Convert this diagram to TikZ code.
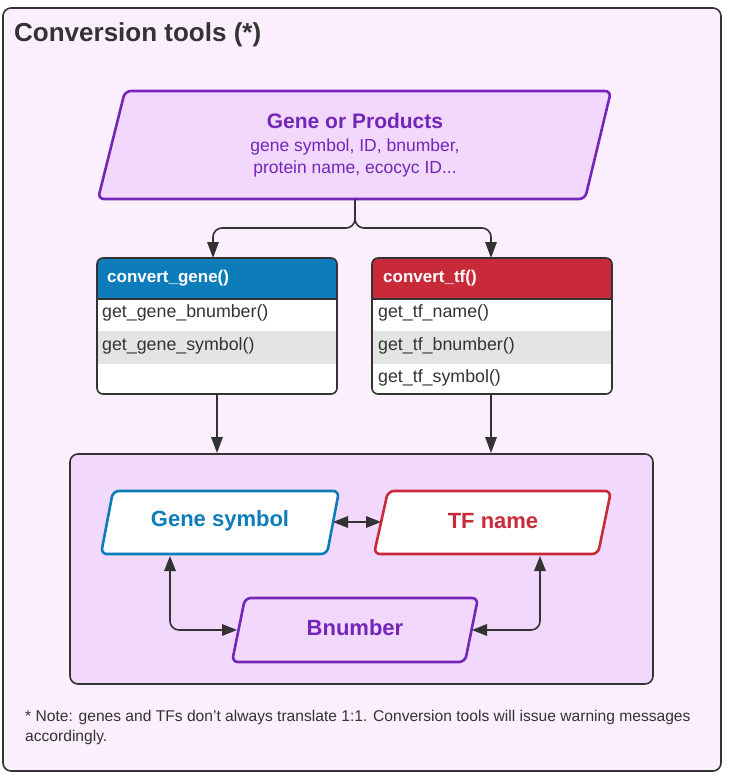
\documentclass[tikz,border=0pt]{standalone}
\usepackage{fontspec}
\setmainfont{Liberation Sans}
\usetikzlibrary{arrows.meta}
\definecolor{outerbg}{HTML}{FBEEFD}
\definecolor{innerbg}{HTML}{F2D8FC}
\definecolor{dark}{HTML}{333333}
\definecolor{purp}{HTML}{7326B9}
\definecolor{blu}{HTML}{0C7CBA}
\definecolor{redd}{HTML}{C92A39}
\definecolor{rowgray}{HTML}{E4E4E4}
\begin{document}
\begin{tikzpicture}[x=1pt,y=-1pt,
  frame/.style={draw=dark, line width=1.6pt, rounded corners=8pt},
  para/.style={line width=2.6pt, rounded corners=6pt},
  conn/.style={draw=dark, line width=1.6pt, -{Triangle[length=16pt,width=11.5pt]}},
  dconn/.style={draw=dark, line width=1.6pt, {Triangle[length=15pt,width=11.5pt]}-{Triangle[length=15pt,width=11.5pt]}},
  hdrtxt/.style={anchor=west, text=white, font=\bfseries\fontsize{17}{20}\selectfont, inner sep=0pt},
  rowtxt/.style={anchor=west, text=dark, font=\fontsize{17.8}{20}\selectfont, inner sep=0pt},
  bigtxt/.style={font=\bfseries\fontsize{22}{26}\selectfont, inner sep=0pt},
  gptxt/.style={text=purp, anchor=base, inner sep=0pt, font=\fontsize{17.5}{21}\selectfont},
  boxarea/.style={minimum width=240pt, minimum height=136pt, anchor=north west, inner sep=0pt, draw=none}
]
\useasboundingbox (0,0) rectangle (737,784);
% outer frame
\path[frame, fill=outerbg] (3,8) rectangle (721,771);
\node[anchor=west, text=dark, font=\bfseries\fontsize{26}{30}\selectfont, inner sep=0pt] (title) at (14,35) {Conversion tools (*)};

% Gene or Products
\path[para, draw=purp, fill=innerbg] (125,91) -- (611,91) -- (585,199) -- (98,199) -- cycle;
\node[gptxt, font=\bfseries\fontsize{21}{25}\selectfont] (gp) at (355,128) {Gene or Products};
\node[gptxt] (gp1) at (355,151) {gene symbol, ID, bnumber,};
\node[gptxt] (gp2) at (355,173) {protein name, ecocyc ID...};
\coordinate (gpb) at (355,199);

% convert_gene box
\node[boxarea] (cg) at (97,258) {};
\begin{scope}
  \clip[rounded corners=6pt] (97,258) rectangle (337,394);
  \fill[white] (97,258) rectangle (337,394);
  \fill[blu] (97,258) rectangle (337,299);
  \fill[rowgray] (97,331) rectangle (337,364);
\end{scope}
\draw[dark, line width=1.6pt] (97,299) -- (337,299);
\draw[dark, line width=1.6pt, rounded corners=6pt] (97,258) rectangle (337,394);
\node[hdrtxt] (cgh) at (107,278) {convert\_gene()};
\node[rowtxt] (cg1) at (102,313) {get\_gene\_bnumber()};
\node[rowtxt] (cg2) at (102,346) {get\_gene\_symbol()};

% convert_tf box
\node[boxarea] (ct) at (372,258) {};
\begin{scope}
  \clip[rounded corners=6pt] (372,258) rectangle (612,394);
  \fill[white] (372,258) rectangle (612,394);
  \fill[redd] (372,258) rectangle (612,299);
  \fill[rowgray] (372,331) rectangle (612,364);
\end{scope}
\draw[dark, line width=1.6pt] (372,299) -- (612,299);
\draw[dark, line width=1.6pt, rounded corners=6pt] (372,258) rectangle (612,394);
\node[hdrtxt] (cth) at (383,278) {convert\_tf()};
\node[rowtxt] (ct1) at (378,313) {get\_tf\_name()};
\node[rowtxt] (ct2) at (378,346) {get\_tf\_bnumber()};
\node[rowtxt] (ct3) at (378,378) {get\_tf\_symbol()};

% fork connectors
\coordinate (cgtop) at (213,258);
\coordinate (cttop) at (491,258);
\draw[conn, rounded corners=9pt] (gpb) -- (355,228) -| (cgtop);
\draw[conn, rounded corners=9pt] (gpb) -- (355,228) -| (cttop);

% inner container
\path[frame, fill=innerbg] (70,454) rectangle (653,684);
\coordinate (cgbot) at (217,394);
\coordinate (ctbot) at (491,394);
\coordinate (intop1) at (217,453);
\coordinate (intop2) at (491,453);
\draw[conn] (cgbot) -- (intop1);
\draw[conn] (ctbot) -- (intop2);

% Gene symbol
\path[para, draw=blu, fill=white] (113,491) -- (339,491) -- (327,554) -- (101,554) -- cycle;
\node[bigtxt, text=blu] (gs) at (220,521) {Gene symbol};
% TF name
\path[para, draw=redd, fill=white] (388,491) -- (611,491) -- (598,554) -- (374,554) -- cycle;
\node[bigtxt, text=redd] (tf) at (493,521) {TF name};
% Bnumber
\path[para, draw=purp, fill=innerbg] (245,598) -- (478,598) -- (465,662) -- (232,662) -- cycle;
\node[bigtxt, text=purp] (bn) at (355,628) {Bnumber};

% inner connectors
\coordinate (gsr) at (333,522);
\coordinate (tfl) at (381,522);
\draw[dconn] (gsr) -- (tfl);
\coordinate (gsb) at (170,556);
\coordinate (bnl) at (237,630);
\draw[dconn, rounded corners=9pt] (gsb) |- (bnl);
\coordinate (tfb) at (540,556);
\coordinate (bnr) at (472,630);
\draw[dconn, rounded corners=9pt] (tfb) |- (bnr);

% note
\node[anchor=north west, text=dark, align=left, inner sep=0pt,
      font=\fontsize{15.6}{19.5}\selectfont] (note) at (25,710)
  {* Note: genes and TFs don't always translate 1:1. Conversion tools will issue warning messages\\accordingly.};
\end{tikzpicture}
\end{document}
